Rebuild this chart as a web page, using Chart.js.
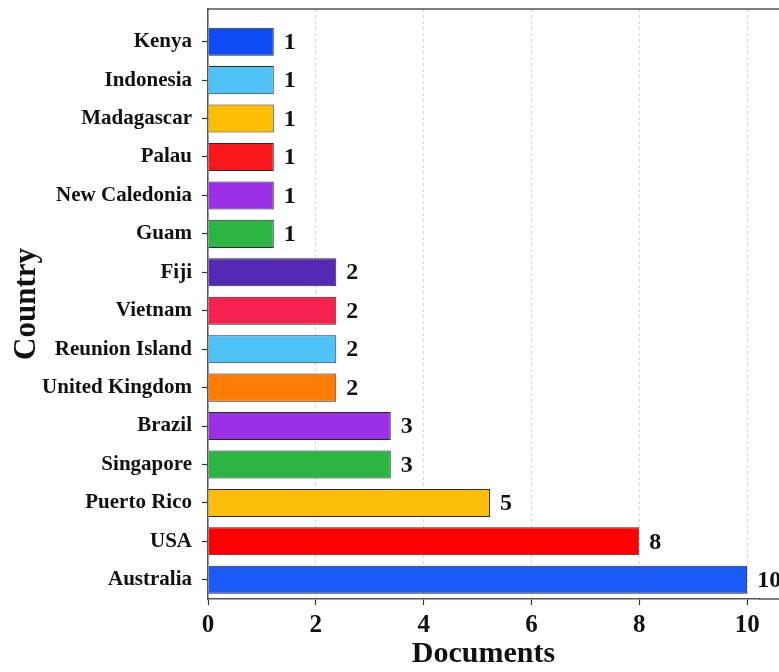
<!DOCTYPE html>
<html>
<head>
<meta charset="utf-8">
<script src="https://cdn.jsdelivr.net/npm/chart.js@4.4.1/dist/chart.umd.min.js"></script>
<style>
  html, body { margin: 0; padding: 0; background: #fff; }
</style>
</head>
<body>
<canvas id="myChart" width="779" height="672"></canvas>
<script>
const countries = ['Kenya', 'Indonesia', 'Madagascar', 'Palau', 'New Caledonia', 'Guam', 'Fiji', 'Vietnam',
    'Reunion Island', 'United Kingdom', 'Brazil', 'Singapore', 'Puerto Rico', 'USA', 'Australia'];
const docCounts = [1, 1, 1, 1, 1, 1, 2, 2, 2, 2, 3, 3, 5, 8, 10];
// bar ends as they are drawn in the picture (the short ones run a little past their count)
const barLengths = [1.22, 1.22, 1.22, 1.22, 1.22, 1.22, 2.38, 2.38, 2.38, 2.38, 3.39, 3.39, 5.23, 8, 10];
const barColors = ['#0d4cf5', '#4fc3f7', '#fdbd00', '#f8171b', '#9c30e6', '#2db543', '#5429b3', '#f5214f',
    '#4fc3f7', '#ff7d05', '#9c30e6', '#2db543', '#fcbe0a', '#ff0000', '#1a5bf7'];
const xTicks = [0, 2, 4, 6, 8, 10];

const serif = 'Liberation Serif';

// count written just past the end of each bar
const valueLabels = {
    id: 'valueLabels',
    afterDatasetsDraw(chart) {
        const ctx = chart.ctx;
        const meta = chart.getDatasetMeta(0);
        ctx.save();
        ctx.font = 'bold 24px "' + serif + '"';
        ctx.fillStyle = '#111';
        ctx.textBaseline = 'middle';
        meta.data.forEach((bar, i) => {
            ctx.fillText(String(docCounts[i]), bar.x + 10, bar.y + 1);
        });
        ctx.restore();
    }
};

// top and bottom spines run on to the edge of the picture
const spines = {
    id: 'spines',
    afterDraw(chart) {
        const ctx = chart.ctx;
        const a = chart.chartArea;
        ctx.save();
        ctx.strokeStyle = '#555';
        ctx.lineWidth = 1.5;
        ctx.beginPath();
        ctx.moveTo(a.left, a.top);
        ctx.lineTo(chart.width, a.top);
        ctx.moveTo(a.right, a.bottom);
        ctx.lineTo(chart.width, a.bottom);
        ctx.stroke();
        ctx.restore();
    }
};

const ctx = document.getElementById('myChart').getContext('2d');

const myChart = new Chart(ctx, {
    type: 'bar',
    data: {
        datasets: [{
            data: barLengths.map((v, i) => ({ x: v, y: i })),
            backgroundColor: barColors,
            borderColor: '#2a2a2a',
            borderWidth: 1,
            barPercentage: 0.73,
            categoryPercentage: 1
        }]
    },
    options: {
        indexAxis: 'y',
        responsive: false,
        animation: false,
        layout: {
            padding: { top: 9, right: 20, left: 0, bottom: 0 }
        },
        plugins: {
            legend: { display: false },
            tooltip: { enabled: false }
        },
        scales: {
            x: {
                type: 'linear',
                position: 'bottom',
                min: 0,
                max: 10.22,
                afterBuildTicks: (scale) => {
                    scale.ticks = xTicks.map(v => ({ value: v }));
                },
                afterFit: (scale) => {
                    scale.height = 73;
                    scale.paddingLeft = 0;
                    scale.paddingRight = 0;
                },
                ticks: {
                    color: '#111',
                    padding: 6,
                    maxRotation: 0,
                    font: { family: serif, size: 25, weight: 'bold' }
                },
                grid: {
                    color: '#d4d4d4',
                    lineWidth: 1,
                    tickLength: 6,
                    tickColor: '#333',
                    tickWidth: 1.2
                },
                border: {
                    color: '#555',
                    width: 1.5,
                    dash: [3, 3]
                },
                title: {
                    display: true,
                    text: 'Documents',
                    color: '#111',
                    padding: { top: 0, bottom: 0 },
                    font: { family: serif, size: 30, weight: 'bold' }
                }
            },
            y: {
                type: 'linear',
                reverse: true,
                offset: false,
                min: -0.85,
                max: 14.5,
                afterBuildTicks: (scale) => {
                    scale.ticks = countries.map((c, i) => ({ value: i }));
                },
                afterFit: (scale) => {
                    scale.width = 208;
                    scale.paddingTop = 0;
                    scale.paddingBottom = 0;
                },
                ticks: {
                    color: '#111',
                    padding: 10,
                    font: { family: serif, size: 21, weight: 'bold' },
                    callback: (value) => countries[value]
                },
                grid: {
                    offset: false,
                    drawOnChartArea: false,
                    tickLength: 6,
                    tickColor: '#333',
                    tickWidth: 1.2
                },
                border: {
                    color: '#555',
                    width: 1.5
                },
                title: {
                    display: true,
                    text: 'Country',
                    color: '#111',
                    padding: { top: 8, bottom: 0 },
                    font: { family: serif, size: 31, weight: 'bold' }
                }
            }
        }
    },
    plugins: [valueLabels, spines]
});
</script>
</body>
</html>
